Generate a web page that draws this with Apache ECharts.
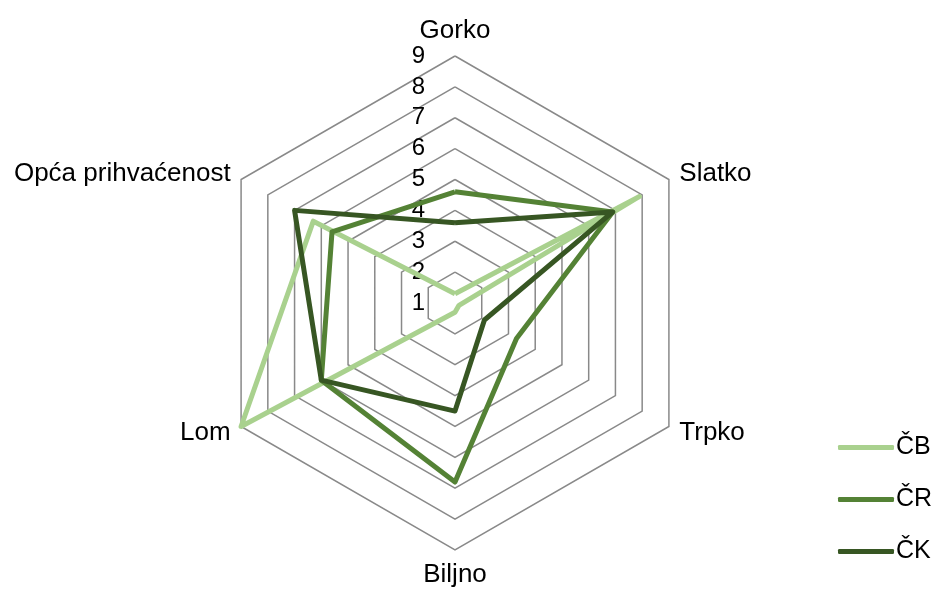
<!DOCTYPE html>
<html>
<head>
<meta charset="utf-8">
<script src="https://cdn.jsdelivr.net/npm/echarts@6/dist/echarts.min.js"></script>
<style>
html, body { margin: 0; padding: 0; background: #fff; }
#chart { width: 933px; height: 590px; }
</style>
</head>
<body>
<div id="chart"></div>
<script>
// osi redom kako ih echarts slaže (od vrha, suprotno od kazaljke)
var categories = ['Gorko', 'Opća prihvaćenost', 'Lom', 'Biljno', 'Trpko', 'Slatko'];
var seriesNames = ['ČB', 'ČR', 'ČK'];
var valuesCB = [1.3, 6.3, 9, 1.3, 1.15, 7.9];
var valuesCR = [4.6, 5.6, 6, 6.8, 3.3, 6.9];
var valuesCK = [3.6, 7.0, 6, 4.5, 2.1, 6.9];
var colors = ['#a9d18e', '#548235', '#375623'];

window.onload = function () {
    var myChart = echarts.init(document.getElementById('chart'));
    var allValues = [valuesCB, valuesCR, valuesCK];

    // brojevi skale samo na prvoj osi (Gorko)
    var indicator = categories.map(function (name, i) {
        var ind = { name: name, min: 1, max: 9 };
        if (i > 0) ind.axisLabel = { show: false };
        return ind;
    });

    var option = {
        backgroundColor: '#ffffff',
        textStyle: { fontFamily: 'Liberation Sans, Arial, sans-serif' },
        legend: {
            orient: 'vertical',
            left: 833,
            top: 430,
            itemWidth: 56,
            itemHeight: 5,
            itemGap: 27,
            icon: 'roundRect',
            textStyle: { color: '#000', fontSize: 25, padding: [0, 0, 0, -3] },
            data: seriesNames
        },
        radar: {
            center: [455, 303],
            radius: 247,
            startAngle: 90,
            shape: 'polygon',
            splitNumber: 8,
            nameGap: 12,
            axisName: { color: '#000', fontSize: 26 },
            axisLine: { show: false },
            axisTick: { show: false },
            splitArea: { show: false },
            splitLine: { lineStyle: { color: '#898989', width: 1.5 } },
            axisLabel: { show: true, color: '#000', fontSize: 24, margin: 30 },
            indicator: indicator
        },
        series: [{
            type: 'radar',
            symbol: 'none',
            data: allValues.map(function (vals, i) {
                return {
                    name: seriesNames[i],
                    value: vals,
                    lineStyle: { color: colors[i], width: 5, join: 'round' },
                    itemStyle: { color: colors[i] }
                };
            })
        }]
    };
    myChart.setOption(option);
};
</script>
</body>
</html>
